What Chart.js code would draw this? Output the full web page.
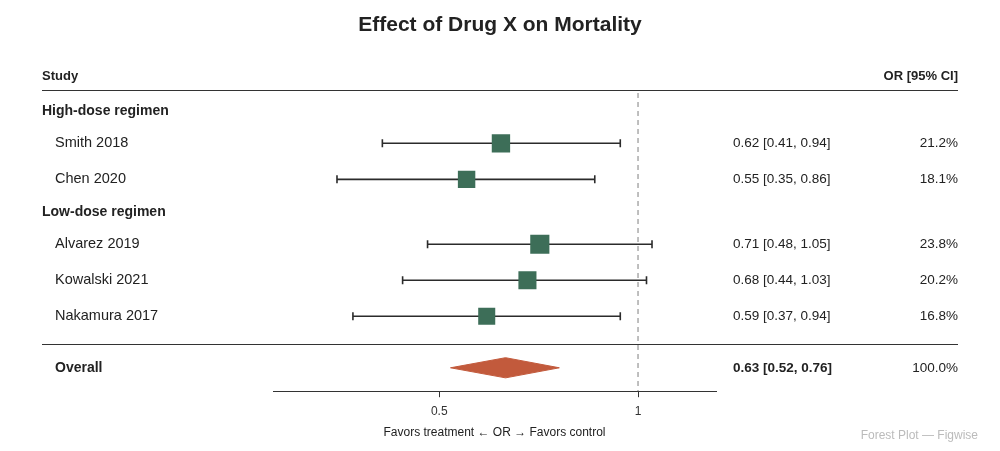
<!DOCTYPE html>
<html>
<head>
<meta charset="utf-8">
<title>Effect of Drug X on Mortality</title>
<script src="https://cdn.jsdelivr.net/npm/chart.js@4/dist/chart.umd.min.js"></script>
<style>
  html, body { margin: 0; padding: 0; background: #fff; }
  #wrap { width: 1000px; height: 451px; position: relative; }
</style>
</head>
<body>
<div id="wrap"><canvas id="chart"></canvas></div>
<script>
// data
const studies = ["Smith 2018", "Chen 2020", "Alvarez 2019", "Kowalski 2021", "Nakamura 2017"];
const groups = ["High-dose regimen", "High-dose regimen", "Low-dose regimen", "Low-dose regimen", "Low-dose regimen"];
const oddsRatios = [0.62, 0.55, 0.71, 0.68, 0.59];
const ciLow = [0.41, 0.35, 0.48, 0.44, 0.37];
const ciHigh = [0.94, 0.86, 1.05, 1.03, 0.94];
const weights = [21.2, 18.1, 23.8, 20.2, 16.8];
const overall = [0.63, 0.52, 0.76]; // estimate, low, high
const overallWeight = 100.0;
const xTicks = [0.5, 1];

forest_plot();

function forest_plot() {
  const canvas = document.querySelector("#chart");
  if (!canvas) {
    return;
  }

  const FONT = "'Liberation Sans', Arial, Helvetica, sans-serif";
  const TEXT = "#222";
  const SQUARE = "#3d6e58";
  const DIAMOND = "#c25a3c";

  // row layout in "row units" (one study row = 1)
  const HEAD_H = 0.8;
  const ROW_H = 1;
  const TOP_GAP = 0.18;
  const SEP_GAP = 0.28;
  const OVERALL_H = 1.3;
  const DIAMOND_H = 0.28;

  const rows = [];
  const studyY = [];
  let y = TOP_GAP;
  let lastGroup = null;
  studies.forEach((name, i) => {
    if (groups[i] !== lastGroup) {
      rows.push({ kind: "group", label: groups[i], y: y + HEAD_H / 2 });
      y += HEAD_H;
      lastGroup = groups[i];
    }
    studyY.push(y + ROW_H / 2);
    rows.push({ kind: "study", index: i, y: y + ROW_H / 2 });
    y += ROW_H;
  });
  const sepY = y + SEP_GAP;
  const overallY = sepY + OVERALL_H / 2;
  const yMax = sepY + OVERALL_H;

  const fmtCI = (o, l, h) => `${o.toFixed(2)} [${l.toFixed(2)}, ${h.toFixed(2)}]`;

  const datasets = [];

  // squares sized by weight
  datasets.push({
    type: "scatter",
    order: 0,
    data: studies.map((s, i) => ({ x: oddsRatios[i], y: studyY[i] })),
    pointStyle: "rect",
    pointRadius: weights.map((w) => (12 + 0.3 * w) / Math.SQRT2),
    pointHoverRadius: weights.map((w) => (12 + 0.3 * w) / Math.SQRT2),
    backgroundColor: SQUARE,
    borderColor: SQUARE,
    borderWidth: 0,
  });

  // confidence interval whiskers with caps
  studies.forEach((s, i) => {
    datasets.push({
      type: "line",
      order: 2,
      data: [
        { x: ciLow[i], y: studyY[i] },
        { x: ciHigh[i], y: studyY[i] },
      ],
      borderColor: "#2b2b2b",
      borderWidth: 1.6,
      pointStyle: "line",
      rotation: 90,
      pointRadius: 4,
      pointHoverRadius: 4,
      pointBorderColor: "#2b2b2b",
      pointBorderWidth: 1.6,
    });
  });

  // line of no effect
  datasets.push({
    type: "line",
    order: 3,
    data: [
      { x: 1, y: 0.08 },
      { x: 1, y: yMax },
    ],
    borderColor: "#aaa",
    borderWidth: 1.5,
    borderDash: [5, 4],
    pointRadius: 0,
  });

  // overall diamond
  datasets.push({
    type: "line",
    order: 1,
    data: [
      { x: overall[1], y: overallY },
      { x: overall[0], y: overallY - DIAMOND_H },
      { x: overall[2], y: overallY },
      { x: overall[0], y: overallY + DIAMOND_H },
      { x: overall[1], y: overallY },
    ],
    borderColor: DIAMOND,
    backgroundColor: DIAMOND,
    borderWidth: 1,
    fill: "shape",
    tension: 0,
    pointRadius: 0,
  });

  const tablePlugin = {
    id: "table",
    afterDraw(chart) {
      const { ctx, chartArea } = chart;
      const ys = chart.scales.y;
      const L = 42, NAME = 55, CI = 733, R = 958;
      ctx.save();
      ctx.textBaseline = "middle";
      ctx.fillStyle = TEXT;

      ctx.font = `bold 21px ${FONT}`;
      ctx.textAlign = "center";
      ctx.fillText("Effect of Drug X on Mortality", 500, 25);

      ctx.font = `bold 13px ${FONT}`;
      ctx.textAlign = "left";
      ctx.fillText("Study", L, chartArea.top - 14);
      ctx.textAlign = "right";
      ctx.fillText("OR [95% CI]", R, chartArea.top - 14);

      ctx.strokeStyle = "#333";
      ctx.lineWidth = 1;
      ctx.beginPath();
      ctx.moveTo(L, chartArea.top + 0.5);
      ctx.lineTo(R, chartArea.top + 0.5);
      const sp = Math.round(ys.getPixelForValue(sepY)) + 0.5;
      ctx.moveTo(L, sp);
      ctx.lineTo(R, sp);
      ctx.stroke();

      rows.forEach((r) => {
        const py = ys.getPixelForValue(r.y);
        if (r.kind === "group") {
          ctx.font = `bold 14px ${FONT}`;
          ctx.textAlign = "left";
          ctx.fillText(r.label, L, py);
        } else {
          const i = r.index;
          ctx.font = `14.5px ${FONT}`;
          ctx.textAlign = "left";
          ctx.fillText(studies[i], NAME, py);
          ctx.font = `13.5px ${FONT}`;
          ctx.fillText(fmtCI(oddsRatios[i], ciLow[i], ciHigh[i]), CI, py);
          ctx.textAlign = "right";
          ctx.fillText(weights[i].toFixed(1) + "%", R, py);
        }
      });

      const oy = ys.getPixelForValue(overallY);
      ctx.font = `bold 14px ${FONT}`;
      ctx.textAlign = "left";
      ctx.fillText("Overall", NAME, oy);
      ctx.font = `bold 13.5px ${FONT}`;
      ctx.fillText(fmtCI(overall[0], overall[1], overall[2]), CI, oy);
      ctx.font = `13.5px ${FONT}`;
      ctx.textAlign = "right";
      ctx.fillText(overallWeight.toFixed(1) + "%", R, oy);

      ctx.font = `12px ${FONT}`;
      ctx.fillStyle = "#bbb";
      ctx.fillText("Forest Plot \u2014 Figwise", 978, 436);
      ctx.restore();
    },
  };

  new Chart(canvas.getContext("2d"), {
    data: { datasets },
    plugins: [tablePlugin],
    options: {
      responsive: true,
      maintainAspectRatio: false,
      animation: false,
      events: [],
      layout: { padding: { left: 273, right: 284, top: 90, bottom: 7 } },
      plugins: {
        legend: { display: false },
        tooltip: { enabled: false },
      },
      scales: {
        x: {
          type: "logarithmic",
          min: 0.28,
          max: 1.3125,
          afterBuildTicks: (scale) => {
            scale.ticks = xTicks.map((v) => ({ value: v }));
          },
          ticks: {
            callback: (v) => String(v),
            autoSkip: false,
            maxRotation: 0,
            color: "#333",
            padding: 7,
            font: { family: FONT, size: 12 },
          },
          grid: { drawOnChartArea: false, drawTicks: true, tickLength: 6, tickWidth: 1, tickColor: "#333", color: "#333" },
          border: { display: true, color: "#333", width: 1 },
          title: {
            display: true,
            text: "Favors treatment \u2190 OR \u2192 Favors control",
            color: "#222",
            padding: { top: 0, bottom: 4 },
            font: { family: FONT, size: 12 },
          },
        },
        y: {
          type: "linear",
          display: false,
          reverse: true,
          min: 0,
          max: yMax,
        },
      },
    },
  });
}
</script>
</body>
</html>
